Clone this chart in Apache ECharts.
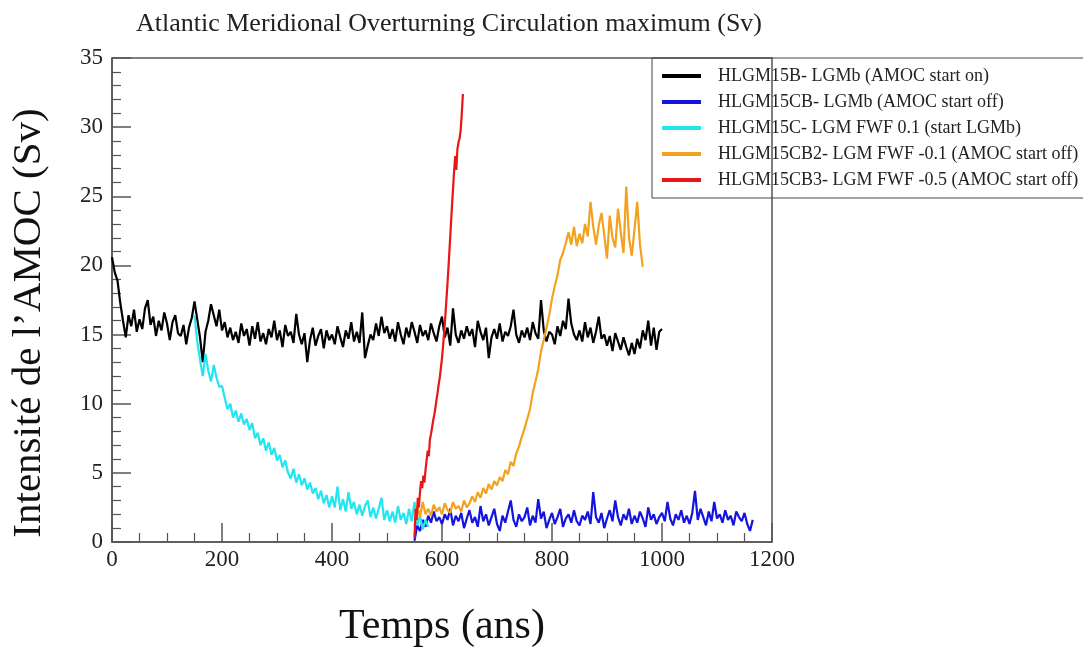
<!DOCTYPE html>
<html>
<head>
<meta charset="utf-8">
<script src="https://cdn.jsdelivr.net/npm/echarts@6/dist/echarts.min.js"></script>
<style>
  html, body { margin: 0; padding: 0; background: #fff; }
  #chart { width: 1083px; height: 653px; }
</style>
</head>
<body>
<div id="chart"></div>
<script>
// AMOC max (Sv), sampled every 5 years unless noted
const STEP = 5;

const blackStart = 0;
const blackValues = [
  20.6, 19.5, 18.9, 17.3, 16.0, 14.8, 16.4, 15.6, 16.8, 15.2,
  16.1, 15.4, 16.9, 17.5, 15.7, 16.3, 14.9, 16.0, 15.3, 16.6,
  15.8, 14.6, 15.9, 16.4, 15.1, 14.9, 15.7, 14.3, 15.5, 16.2,
  17.4, 16.1, 14.8, 13.0, 15.2, 16.0, 17.2, 16.4, 15.6, 16.8,
  15.3, 15.9, 14.8, 15.5, 14.6, 15.2, 14.4, 15.8, 14.9, 15.4,
  14.2, 15.6, 14.7, 15.9, 14.5, 15.1, 14.3, 15.4, 14.8, 16.0,
  14.6, 15.3, 14.1, 15.7, 14.9, 15.2, 14.4, 16.5, 15.0, 14.3,
  15.1, 13.0, 14.6, 15.5, 14.2, 14.9, 15.4, 14.0, 15.3, 14.6,
  15.0, 14.3, 15.6, 14.8, 14.1, 15.3, 14.7, 15.9, 14.5, 15.2,
  14.4, 16.6, 13.3, 14.2, 15.0, 14.6, 15.8, 14.9, 16.3, 15.1,
  15.6, 14.7, 15.4, 14.5, 15.9, 15.0, 14.3, 15.5, 14.8, 15.9,
  15.2, 14.4, 15.7, 14.9, 15.3, 14.6, 15.8, 15.1, 14.5, 15.6,
  16.3, 14.8, 15.5, 14.2, 16.9, 15.0, 14.4, 15.3, 14.7, 15.6,
  14.9, 15.4, 14.1, 16.0, 15.2, 14.6, 15.5, 13.3, 14.8, 15.4,
  14.7, 15.8, 14.5, 15.2, 14.9, 15.6, 16.8, 15.0, 14.4, 15.3,
  14.8, 15.5, 14.6, 15.9, 15.1, 14.7, 17.5, 15.3, 14.5, 15.2,
  15.0, 14.3, 15.6, 14.9, 16.0, 15.4, 17.6, 15.8, 15.0, 14.6,
  15.3, 14.5, 15.9, 14.8, 15.5, 14.4, 15.2, 16.3, 14.7, 15.0,
  14.2, 14.9, 13.8, 15.1, 14.5, 13.9, 14.8, 14.1, 13.5, 14.4,
  13.6, 14.7, 14.0, 15.3, 14.6, 16.0, 14.2, 15.5, 13.9, 15.2,
  15.4
];

const blueStart = 550;
const blueValues = [
  0.1, 1.2, 0.8, 1.6, 1.1, 1.9, 1.4, 2.2, 1.5, 1.8,
  1.3, 2.0, 1.6, 2.4, 1.2, 1.9, 1.5, 2.1, 1.0, 1.7,
  2.3, 1.4, 1.8, 1.1, 2.6, 1.5, 2.0, 1.2, 1.8, 2.4,
  1.3, 0.8, 1.9, 1.4, 2.2, 3.0, 1.6, 1.1, 2.0, 1.5,
  1.8, 2.5, 1.2, 1.9, 1.4, 3.1, 1.7, 2.2, 1.0, 1.6,
  2.1, 1.3, 1.8, 2.4, 1.1, 1.7, 2.0, 1.4, 2.3, 1.5,
  1.2, 1.9, 1.6, 2.2, 1.3, 3.6, 1.8, 1.4, 2.1, 1.0,
  1.7, 2.3, 1.5, 3.0, 1.8, 1.2, 2.0, 1.6, 2.4, 1.3,
  1.9, 1.4, 2.2, 1.7, 1.1, 2.5, 1.6, 2.0, 1.3, 1.8,
  2.1, 1.5, 2.9, 1.7, 1.2, 2.0, 1.6, 2.3, 1.4, 1.9,
  1.3, 2.1, 3.7, 1.6, 2.4, 1.8, 1.2, 2.2, 1.5, 2.9,
  1.7, 2.0, 1.4, 2.3, 1.6, 1.9, 1.2, 2.2, 1.8, 1.5,
  2.1, 1.3, 0.8, 1.6
];

const cyanStart = 150;
const cyanValues = [
  16.4, 14.5, 13.2, 12.0, 13.6, 12.4, 11.6, 12.8, 11.9, 11.2,
  11.3, 10.4, 9.6, 10.0, 9.0, 9.5, 8.7, 9.3, 8.5, 8.9,
  8.1, 8.6, 7.5, 7.9, 7.0, 7.5, 6.6, 7.2, 6.3, 6.8,
  5.9, 6.3, 5.4, 5.9, 5.0, 4.6, 5.3, 4.3, 4.9, 4.1,
  4.6, 3.8, 4.3, 3.5, 3.9, 3.1, 3.7, 2.8, 3.4, 2.5,
  3.3, 2.5, 4.0, 2.3, 3.1, 2.2, 3.6, 2.4, 2.9, 2.0,
  2.7, 1.9, 2.6, 3.0, 1.8, 2.5, 1.7, 2.4, 3.2, 1.6,
  2.3, 1.5, 2.2, 1.4, 2.6, 1.6, 2.1, 1.3, 2.4, 1.5,
  2.9, 1.2, 1.9, 0.9, 1.6, 1.1
];

const orangeStart = 550;
const orangeValues = [
  1.2, 2.6, 1.8, 2.9, 2.0, 2.4, 1.9, 2.7, 2.2, 2.5,
  2.0, 2.8, 2.3, 2.1, 2.9, 2.4, 2.6, 2.2, 3.0, 2.5,
  2.8, 3.3, 2.9, 3.6, 3.2, 3.9, 3.5, 4.2, 3.8, 4.4,
  4.1, 4.7, 4.4, 5.2, 4.9, 5.8, 5.5, 6.4, 6.9, 7.6,
  8.2, 8.9, 9.6, 10.8, 11.6, 12.5, 13.8, 14.6, 15.5, 16.4,
  17.6, 18.5, 19.3, 20.4, 20.9, 21.6, 22.4, 21.5, 22.8, 21.4,
  22.3, 21.6, 23.0, 22.1, 24.6, 22.8, 21.5, 22.9, 23.8, 22.2,
  20.5, 23.6, 22.0, 21.3, 24.1, 22.4, 20.9, 25.7, 22.0, 20.7,
  22.6, 24.6, 21.5, 19.9
];

// red run is steep, sampled every 2 years
const redStart = 550;
const redStep = 2;
const redValues = [
  0.3, 2.4, 1.6, 3.2, 2.5, 3.6, 4.4, 3.9, 4.8, 4.3,
  5.2, 5.9, 6.6, 6.2, 7.4, 7.8, 8.3, 8.8, 9.2, 9.7,
  10.3, 10.8, 11.4, 11.9, 12.6, 13.3, 14.2, 15.2, 16.3, 17.5,
  18.7, 20.0, 21.4, 22.8, 24.2, 25.5, 26.8, 27.9, 26.9, 28.4,
  28.9, 29.2, 29.8, 31.0, 32.4
];

const seriesNames = [
  'HLGM15B- LGMb (AMOC start on)',
  'HLGM15CB- LGMb (AMOC start off)',
  'HLGM15C- LGM FWF 0.1 (start LGMb)',
  'HLGM15CB2- LGM FWF -0.1 (AMOC start off)',
  'HLGM15CB3- LGM FWF -0.5 (AMOC start off)'
];
const seriesColors = ['#000000', '#1414dc', '#22e6ef', '#f2a21e', '#e81616'];

function toPoints(start, step, values) {
  return values.map((v, i) => [start + i * step, v]);
}

const seriesData = [
  toPoints(blackStart, STEP, blackValues),
  toPoints(blueStart, STEP, blueValues),
  toPoints(cyanStart, STEP, cyanValues),
  toPoints(orangeStart, STEP, orangeValues),
  toPoints(redStart, redStep, redValues)
];

const serif = 'Liberation Serif, Times New Roman, serif';

const chart = echarts.init(document.getElementById('chart'), null, { renderer: 'canvas' });
const option = {
  animation: false,
  backgroundColor: '#fff',
  title: {
    text: 'Atlantic Meridional Overturning Circulation maximum (Sv)',
    left: 444,
    top: 6,
    textAlign: 'center',
    textStyle: { fontFamily: serif, fontSize: 26, fontWeight: 'normal', color: '#222' }
  },
  legend: {
    orient: 'vertical',
    left: 652,
    top: 58,
    padding: [9, 30, 9, 10],
    itemGap: 8,
    itemWidth: 39,
    itemHeight: 4,
    icon: 'rect',
    borderColor: '#444',
    borderWidth: 1,
    textStyle: { fontFamily: serif, fontSize: 18, color: '#222', lineHeight: 18, padding: [0, 0, 0, 12] },
    data: seriesNames
  },
  grid: {
    left: 112,
    right: 311,
    top: 58,
    bottom: 106,
    show: true,
    borderColor: '#555',
    borderWidth: 1.5
  },
  xAxis: {
    type: 'value',
    min: 0,
    max: 1200,
    interval: 200,
    name: 'Temps (ans)',
    nameLocation: 'middle',
    nameGap: 64,
    nameTextStyle: { fontFamily: serif, fontSize: 42, color: '#111' },
    axisLine: { lineStyle: { color: '#555', width: 1.5 } },
    axisTick: { inside: true, length: 19, lineStyle: { color: '#555', width: 1.5 } },
    minorTick: { show: true, splitNumber: 4, length: 9, lineStyle: { color: '#555', width: 1.2 } },
    splitLine: { show: false },
    axisLabel: { fontFamily: serif, fontSize: 23, color: '#222', margin: 6, formatter: (v) => String(v) }
  },
  yAxis: {
    type: 'value',
    min: 0,
    max: 35,
    interval: 5,
    name: 'Intensité de l’AMOC (Sv)',
    nameLocation: 'middle',
    nameRotate: 90,
    nameGap: 62,
    nameTextStyle: { fontFamily: serif, fontSize: 41, color: '#111', padding: [0, 46, 0, 0] },
    axisLine: { lineStyle: { color: '#555', width: 1.5 } },
    axisTick: { inside: true, length: 19, lineStyle: { color: '#555', width: 1.5 } },
    minorTick: { show: true, splitNumber: 5, length: 9, lineStyle: { color: '#555', width: 1.2 } },
    splitLine: { show: false },
    axisLabel: { fontFamily: serif, fontSize: 23, color: '#222', margin: 9 }
  },
  series: seriesNames.map((name, i) => ({
    name: name,
    type: 'line',
    data: seriesData[i],
    showSymbol: false,
    color: seriesColors[i],
    lineStyle: { width: 2.2, color: seriesColors[i] },
    z: 2 + i
  }))
};
chart.setOption(option);
</script>
</body>
</html>
